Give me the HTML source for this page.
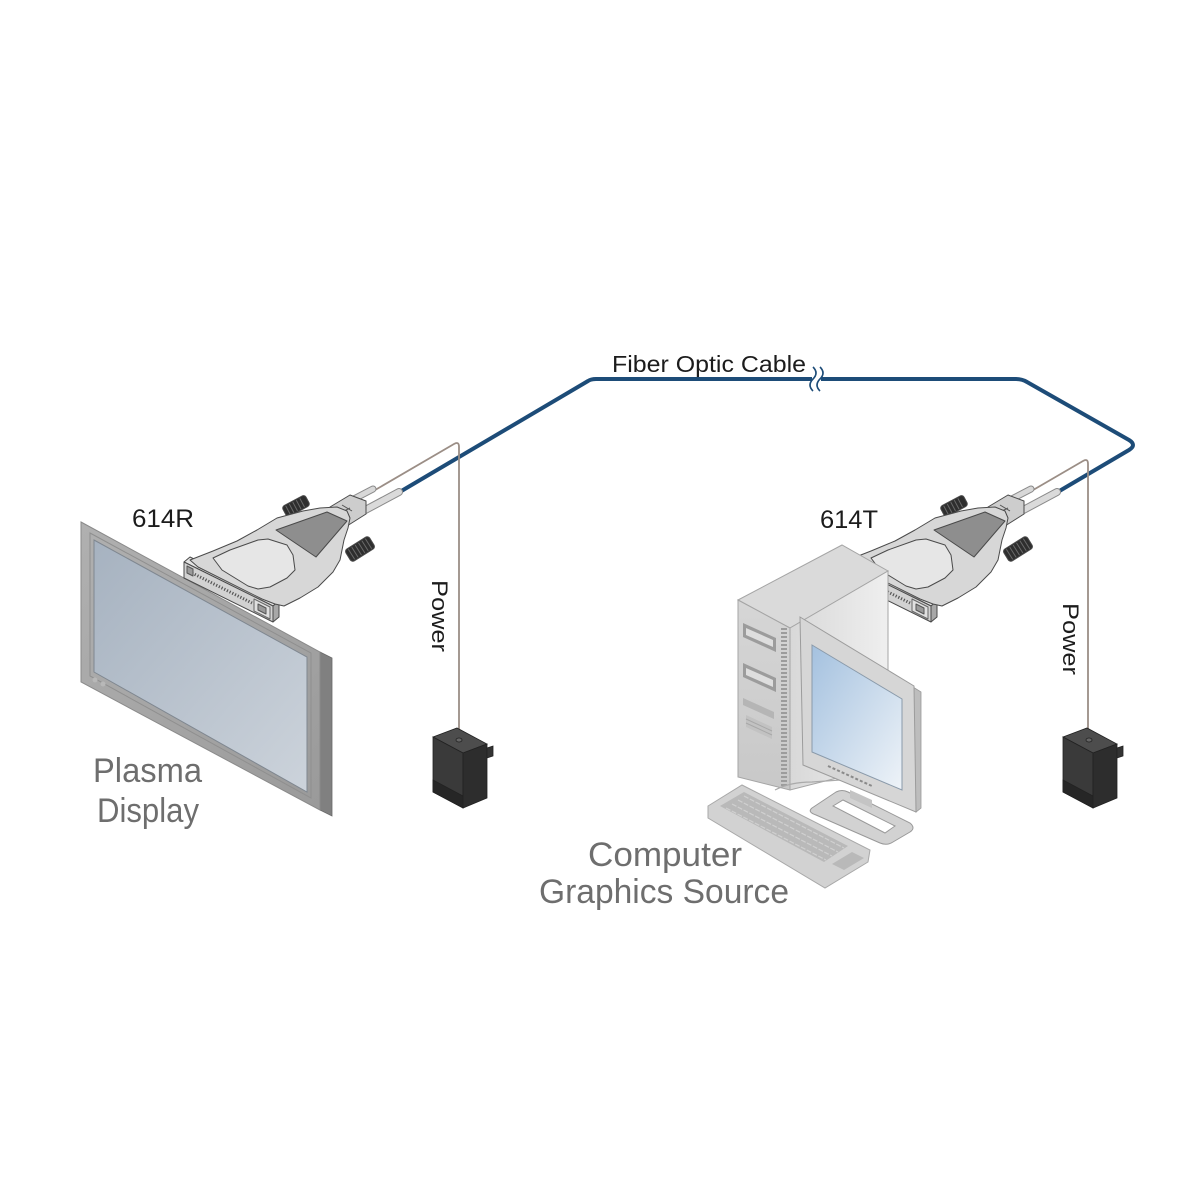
<!DOCTYPE html>
<html><head><meta charset="utf-8">
<style>html,body{margin:0;padding:0;background:#fff}svg{display:block}</style>
</head><body>
<svg width="1200" height="1200" viewBox="0 0 1200 1200" xmlns="http://www.w3.org/2000/svg">
<defs>
 <linearGradient id="scr" x1="0" y1="0" x2="1" y2="1">
  <stop offset="0" stop-color="#a6b2c0"/><stop offset="1" stop-color="#ccd3db"/>
 </linearGradient>
 <linearGradient id="bez" x1="0" y1="0" x2="1" y2="1">
  <stop offset="0" stop-color="#b0b0b0"/><stop offset="1" stop-color="#9a9a9a"/>
 </linearGradient>
 <linearGradient id="mscr" x1="0" y1="0" x2="1" y2="1">
  <stop offset="0" stop-color="#a4c1df"/><stop offset="1" stop-color="#eef3f8"/>
 </linearGradient>
 <linearGradient id="tside" x1="0" y1="0" x2="1" y2="0">
  <stop offset="0" stop-color="#d8d8d8"/><stop offset="1" stop-color="#efefef"/>
 </linearGradient>
 <linearGradient id="tfront" x1="0" y1="0" x2="0" y2="1">
  <stop offset="0" stop-color="#d6d6d6"/><stop offset="1" stop-color="#c8c8c8"/>
 </linearGradient>
 <g id="conn" stroke="#4a4a4a" stroke-width="1" stroke-linejoin="round">
  <g transform="translate(296,506) rotate(-28)">
   <rect x="-13" y="-6" width="26" height="12" rx="3" fill="#2e2e2e"/>
   <path d="M-9,-5v10M-5,-5v10M-1,-5v10M3,-5v10M7,-5v10" stroke="#6a6a6a"/>
  </g>
  <g transform="translate(360,549) rotate(-32)">
   <rect x="-14" y="-7" width="28" height="14" rx="3" fill="#2e2e2e"/>
   <path d="M-10,-6v12M-6,-6v12M-2,-6v12M2,-6v12M6,-6v12M10,-6v12" stroke="#6a6a6a"/>
  </g>
  <line x1="350" y1="501" x2="373" y2="489" stroke="#8a8a8a" stroke-width="7" stroke-linecap="round"/>
  <line x1="350" y1="501" x2="373" y2="489" stroke="#d8d8d8" stroke-width="5" stroke-linecap="round"/>
  <line x1="356" y1="515" x2="399" y2="492" stroke="#8a8a8a" stroke-width="8" stroke-linecap="round"/>
  <line x1="356" y1="515" x2="399" y2="492" stroke="#dadada" stroke-width="6" stroke-linecap="round"/>
  <polygon points="330,507 350,495 366,501 366,514 347,526 330,518" fill="#cdcdcd"/>
  <path d="M338,508 l10,6 M342,505 l10,6 M338,514 l12,-6" stroke="#555" fill="none"/>
  <polygon points="184,562 190,557 279,601 273,606" fill="#e4e4e4"/>
  <polygon points="184,562 273,606 273,622 184,578" fill="#d2d2d2"/>
  <polygon points="273,606 279,601 279,617 273,622" fill="#a8a8a8"/>
  <path d="M192,573 L252,603" stroke="#555" stroke-width="3" stroke-dasharray="1.2 1.8" fill="none"/>
  <polygon points="254,599 270,607 270,619 254,611" fill="#e0e0e0" stroke="#666"/>
  <polygon points="258,604 266,608 266,614 258,610" fill="#9a9a9a" stroke="#555"/>
  <polygon points="187,566 193,569 193,576 187,573" fill="#9a9a9a" stroke="#555"/>
  <polygon points="190,560 213,551 237,541 257,530 277,518 303,511 320,508 337,507 347,511 350,518 348,528 344,540 340,560 333,572 318,587 300,598 284,606 275,604 262,599 198,567" fill="#d7d7d7"/>
  <polygon points="213,558 230,550 258,540 268,539 287,545 293,555 295,570 287,578 270,587 258,589 248,586 222,570" fill="#e6e6e6"/>
  <polygon points="276,530 327,512 347,521 316,557" fill="#8e8e8e"/>
 </g>
</defs>

<path d="M398,493 L588,381 Q591,379 596,379 L1016,379 Q1022,379 1027,382 L1129,440 Q1137,445 1129,450 L1056,493" fill="none" stroke="#1d4c78" stroke-width="4" stroke-linejoin="round"/>
<rect x="812" y="372" width="9" height="14" fill="#fff"/>
<path d="M813,367 c4,4 4,8 0,12 c-4,4 -4,8 0,12 M820,367 c4,4 4,8 0,12 c-4,4 -4,8 0,12" fill="none" stroke="#1d4c78" stroke-width="1.6"/>

<path d="M370,493 L454,444 Q459,441 459,447 L459,737" fill="none" stroke="#9b8e86" stroke-width="1.8"/>
<path d="M1028,493 L1083,461 Q1088,458 1088,464 L1088,737" fill="none" stroke="#9b8e86" stroke-width="1.8"/>

<polygon points="320,652 332,658 332,816 320,810" fill="#808080" stroke="#6a6a6a" stroke-width="0.8"/>
<polygon points="81,522 320,652 320,810 81,682" fill="url(#bez)" stroke="#8a8a8a" stroke-width="1"/>
<polygon points="90,533 311,653 311,798 90,676" fill="none" stroke="#8f8f8f" stroke-width="1"/>
<polygon points="94,540 307,657 307,792 94,672" fill="url(#scr)" stroke="#7f8790" stroke-width="1"/>
<circle cx="95" cy="680" r="2.5" fill="#b8b8b8"/><circle cx="103" cy="684" r="2.5" fill="#b8b8b8"/>

<use href="#conn"/>
<use href="#conn" transform="translate(658,0)"/>

<polygon points="738,600 842,545 888,571 790,628" fill="#dadada" stroke="#a5a5a5" stroke-width="1"/>
<polygon points="790,628 888,571 888,765 790,790" fill="url(#tside)" stroke="#a5a5a5" stroke-width="1"/>
<polygon points="738,600 790,628 790,790 738,777" fill="url(#tfront)" stroke="#a5a5a5" stroke-width="1"/>
<line x1="784" y1="628" x2="784" y2="788" stroke="#9c9c9c" stroke-width="6" stroke-dasharray="2 2"/>
<polygon points="743,623 776,638 776,652 743,637" fill="#9c9c9c"/>
<polygon points="746,628 773,640 773,647 746,635" fill="#dedede"/>
<polygon points="743,663 776,678 776,692 743,677" fill="#9c9c9c"/>
<polygon points="746,668 773,680 773,687 746,675" fill="#dedede"/>
<polygon points="743,698 774,712 774,719 743,705" fill="#b5b5b5"/>
<polygon points="746,715 772,727 772,739 746,727" fill="#c2c2c2"/>
<path d="M746,719 l26,12 M746,723 l26,12" stroke="#a8a8a8" stroke-width="1"/>

<path d="M775,790 Q790,782 812,782 L840,780" fill="none" stroke="#aaa" stroke-width="1.2"/>
<polygon points="708,806 742,785 870,850 868,862 825,888 708,818" fill="#d2d2d2" stroke="#a8a8a8" stroke-width="1"/>
<polygon points="720,806 744,792 848,846 824,862" fill="#b9b9b9"/>
<path d="M726,808 l100,52 M732,804 l100,52 M738,800 l100,52 M744,796 l100,52" stroke="#d0d0d0" stroke-width="1.2" stroke-dasharray="5 1.5"/>
<polygon points="832,864 852,852 864,858 844,870" fill="#b9b9b9"/>

<polygon points="913,687 921,692 921,808 916,812" fill="#bdbdbd" stroke="#9a9a9a" stroke-width="0.8"/>
<polygon points="800,617 914,686 916,812 803,765" fill="#d6d6d6" stroke="#9c9c9c" stroke-width="1"/>
<polygon points="812,645 902,699 902,790 812,752" fill="url(#mscr)" stroke="#8a9aaa" stroke-width="1"/>
<path d="M828,766 l44,20" stroke="#8a8a8a" stroke-width="2" stroke-dasharray="3 2"/>
<path fill-rule="evenodd" d="M812,808 L836,792 Q842,789 848,792 L910,823 Q916,828 910,832 L893,842 Q887,846 880,843 L816,815 Q807,812 812,808 Z M833,806 L843,800 L895,826 L885,833 Z" fill="#d2d2d2" stroke="#999" stroke-width="1"/>
<polygon points="850,790 872,800 872,808 850,798" fill="#c4c4c4"/>

<g stroke="#222" stroke-width="0.8">
 <polygon points="433,737 457,728 487,744 463,753" fill="#4d4d4d"/>
 <polygon points="433,737 463,753 463,808 433,792" fill="#3a3a3a"/>
 <polygon points="463,753 487,744 487,798 463,808" fill="#2d2d2d"/>
 <polygon points="487,748 493,746 493,756 487,758" fill="#333"/>
 <polygon points="433,780 463,796 463,808 433,792" fill="#262626"/>
 <ellipse cx="459" cy="740" rx="3" ry="2" fill="#666"/>
</g>
<g stroke="#222" stroke-width="0.8" transform="translate(630,0)">
 <polygon points="433,737 457,728 487,744 463,753" fill="#4d4d4d"/>
 <polygon points="433,737 463,753 463,808 433,792" fill="#3a3a3a"/>
 <polygon points="463,753 487,744 487,798 463,808" fill="#2d2d2d"/>
 <polygon points="487,748 493,746 493,756 487,758" fill="#333"/>
 <polygon points="433,780 463,796 463,808 433,792" fill="#262626"/>
 <ellipse cx="459" cy="740" rx="3" ry="2" fill="#666"/>
</g>

<g font-family="'Liberation Sans', Arial, sans-serif">
 <text x="612" y="372" font-size="23" fill="#1c1c1c" textLength="194" lengthAdjust="spacingAndGlyphs">Fiber Optic Cable</text>
 <text x="132" y="527" font-size="25" fill="#1c1c1c" textLength="62" lengthAdjust="spacingAndGlyphs">614R</text>
 <text x="820" y="528" font-size="25" fill="#1c1c1c" textLength="58" lengthAdjust="spacingAndGlyphs">614T</text>
 <text transform="translate(432,580) rotate(90)" font-size="22" fill="#1c1c1c" textLength="72" lengthAdjust="spacingAndGlyphs">Power</text>
 <text transform="translate(1063,603) rotate(90)" font-size="22" fill="#1c1c1c" textLength="72" lengthAdjust="spacingAndGlyphs">Power</text>
 <text x="93" y="782" font-size="34" fill="#6e6e6e" textLength="109" lengthAdjust="spacingAndGlyphs">Plasma</text>
 <text x="97" y="822" font-size="34" fill="#6e6e6e" textLength="102" lengthAdjust="spacingAndGlyphs">Display</text>
 <text x="588" y="866" font-size="34" fill="#6e6e6e" textLength="154" lengthAdjust="spacingAndGlyphs">Computer</text>
 <text x="539" y="903" font-size="34" fill="#6e6e6e" textLength="250" lengthAdjust="spacingAndGlyphs">Graphics Source</text>
</g>
</svg>
</body></html>
